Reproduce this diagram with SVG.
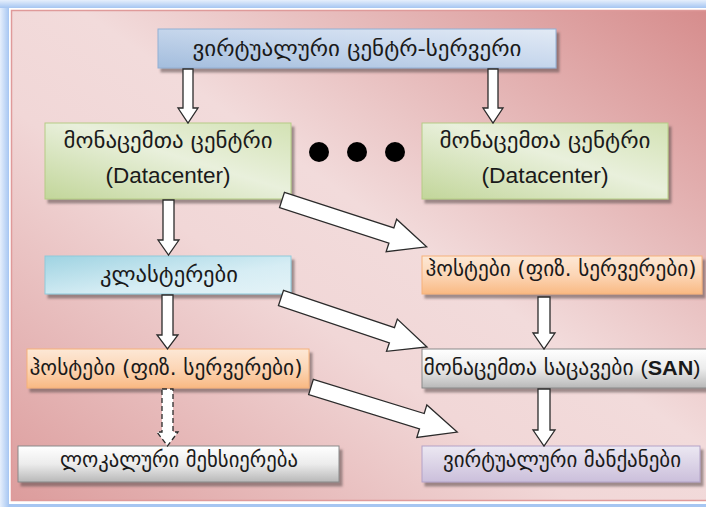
<svg xmlns="http://www.w3.org/2000/svg" width="706" height="507" viewBox="0 0 706 507">
  <style>
    .geo { font-family: "DejaVu Sans", "Noto Sans", sans-serif; font-size: 21px; fill: #1a1a1a; text-anchor: middle; }
    .lat { font-family: "Liberation Sans", Arial, sans-serif; font-size: 22px; fill: #1a1a1a; text-anchor: middle; }
    .latin { font-family: "Liberation Sans", Arial, sans-serif; font-size: 21px; }
    .box { stroke-width: 1; filter: url(#shadow); }
    .arrow { fill: #ffffff; stroke: #2b2b2b; stroke-width: 1.3; stroke-linejoin: miter; }
    .dashed { stroke-dasharray: 5 3; }
  </style>
  <defs>
    <linearGradient id="bg" x1="1" y1="0" x2="0" y2="1">
      <stop offset="0" stop-color="#d68c8c"/>
      <stop offset="0.45" stop-color="#f2dbdb"/>
      <stop offset="0.6" stop-color="#f1d7d7"/>
      <stop offset="1" stop-color="#dc9c9c"/>
    </linearGradient>
    <linearGradient id="frameL" x1="0" y1="0" x2="1" y2="0">
      <stop offset="0" stop-color="#e6effc"/>
      <stop offset="1" stop-color="#a6c6f2"/>
    </linearGradient>
    <linearGradient id="frameT" x1="0" y1="0" x2="0" y2="1">
      <stop offset="0" stop-color="#e6effc"/>
      <stop offset="1" stop-color="#a6c6f2"/>
    </linearGradient>
    <linearGradient id="gBlue" x1="0" y1="1" x2="1" y2="0">
      <stop offset="0" stop-color="#a3bddd"/>
      <stop offset="0.6" stop-color="#cbdaee"/>
      <stop offset="1" stop-color="#e2eaf5"/>
    </linearGradient>
    <linearGradient id="gGreen" x1="0" y1="1" x2="1" y2="0">
      <stop offset="0" stop-color="#c2d69a"/>
      <stop offset="0.55" stop-color="#e9f0dc"/>
      <stop offset="1" stop-color="#d3e2b4"/>
    </linearGradient>
    <linearGradient id="gCyan" x1="0" y1="0" x2="1" y2="1">
      <stop offset="0" stop-color="#9fd3e2"/>
      <stop offset="0.6" stop-color="#d6edf4"/>
      <stop offset="1" stop-color="#e4f3f7"/>
    </linearGradient>
    <linearGradient id="gOrange" x1="0" y1="0" x2="0" y2="1">
      <stop offset="0" stop-color="#fde8d6"/>
      <stop offset="0.5" stop-color="#fcd6b6"/>
      <stop offset="1" stop-color="#f9b983"/>
    </linearGradient>
    <linearGradient id="gGray" x1="0" y1="0" x2="0" y2="1">
      <stop offset="0" stop-color="#ffffff"/>
      <stop offset="0.5" stop-color="#ececec"/>
      <stop offset="1" stop-color="#b8b8b8"/>
    </linearGradient>
    <linearGradient id="gPurple" x1="0" y1="0" x2="0" y2="1">
      <stop offset="0" stop-color="#ece8f2"/>
      <stop offset="1" stop-color="#cbbfdb"/>
    </linearGradient>
    <filter id="shadow" x="-5%" y="-20%" width="115%" height="150%">
      <feGaussianBlur in="SourceAlpha" stdDeviation="1"/>
      <feOffset dx="3" dy="4" result="o"/>
      <feFlood flood-color="#5a4a4a" flood-opacity="0.55"/>
      <feComposite in2="o" operator="in"/>
      <feMerge><feMergeNode/><feMergeNode in="SourceGraphic"/></feMerge>
    </filter>
  </defs>

  <!-- frame and backdrop -->
  <rect x="0" y="0" width="706" height="507" fill="#a6c6f2"/>
  <rect x="0" y="0" width="9" height="507" fill="url(#frameL)"/>
  <rect x="0" y="0" width="706" height="8" fill="url(#frameT)"/>
  <rect x="9" y="8" width="697" height="496" fill="#ffffff"/>
  <rect x="11.5" y="10.5" width="700" height="490" fill="url(#bg)" stroke="#df9a9a" stroke-width="1.5"/>

  <!-- nodes -->
  <g id="vcenter">
    <rect class="box" x="158" y="29" width="398" height="39" fill="url(#gBlue)" stroke="#92afd3"/>
    <text class="geo" x="357" y="56" textLength="329" lengthAdjust="spacingAndGlyphs">ვირტუალური  ცენტრ-სერვერი</text>
  </g>
  <g id="datacenter1">
    <rect class="box" x="45" y="123" width="246" height="76" fill="url(#gGreen)" stroke="#b5cc85"/>
    <text class="geo" x="168" y="148" textLength="209" lengthAdjust="spacingAndGlyphs">მონაცემთა  ცენტრი</text>
    <text class="lat" x="168" y="183" textLength="125" lengthAdjust="spacingAndGlyphs">(Datacenter)</text>
  </g>
  <g id="dots">
    <circle cx="319" cy="152" r="10" fill="#000"/>
    <circle cx="357" cy="152" r="10" fill="#000"/>
    <circle cx="395" cy="152" r="10" fill="#000"/>
  </g>
  <g id="datacenter2">
    <rect class="box" x="422" y="123" width="246" height="76" fill="url(#gGreen)" stroke="#b5cc85"/>
    <text class="geo" x="545" y="148" textLength="211" lengthAdjust="spacingAndGlyphs">მონაცემთა  ცენტრი</text>
    <text class="lat" x="545" y="183" textLength="127" lengthAdjust="spacingAndGlyphs">(Datacenter)</text>
  </g>
  <g id="clusters">
    <rect class="box" x="45" y="256" width="246" height="38" fill="url(#gCyan)" stroke="#8fc9da"/>
    <text class="geo" x="169" y="282" textLength="138" lengthAdjust="spacingAndGlyphs">კლასტერები</text>
  </g>
  <g id="hosts1">
    <rect class="box" x="27" y="349" width="282" height="39" fill="url(#gOrange)" stroke="#f5b27a"/>
    <text class="geo" x="166" y="375" textLength="273" lengthAdjust="spacingAndGlyphs">ჰოსტები (ფიზ. სერვერები)</text>
  </g>
  <g id="localstorage">
    <rect class="box" x="18" y="446" width="321" height="36" fill="url(#gGray)" stroke="#8a8a8a"/>
    <text class="geo" x="179" y="467" textLength="238" lengthAdjust="spacingAndGlyphs">ლოკალური მეხსიერება</text>
  </g>
  <g id="hosts2">
    <rect class="box" x="422" y="256" width="280" height="38" fill="url(#gOrange)" stroke="#f5b27a"/>
    <text class="geo" x="561" y="276" textLength="271" lengthAdjust="spacingAndGlyphs">ჰოსტები (ფიზ. სერვერები)</text>
  </g>
  <g id="san">
    <rect class="box" x="422" y="349" width="290" height="39" fill="url(#gGray)" stroke="#8a8a8a"/>
    <text class="geo" x="562" y="375" textLength="277" lengthAdjust="spacingAndGlyphs">მონაცემთა საცავები <tspan class="latin">(</tspan><tspan class="latin" font-weight="bold">SAN</tspan><tspan class="latin">)</tspan></text>
  </g>
  <g id="vms">
    <rect class="box" x="422" y="446" width="278" height="36" fill="url(#gPurple)" stroke="#b3a2c7"/>
    <text class="geo" x="562" y="467" textLength="238" lengthAdjust="spacingAndGlyphs">ვირტუალური მანქანები</text>
  </g>

  <!-- connectors -->
  <g id="connectors">
    <path class="arrow" d="M183 69 H193 V108 H198 L188 123 L178 108 H183 Z"/>
    <path class="arrow" d="M488 69 H498 V108 H503 L493 123 L483 108 H488 Z"/>
    <path class="arrow" d="M163 200 H174 V240 H179 L168.5 255 L158 240 H163 Z"/>
    <path class="arrow" d="M162 295 H173 V335 H178 L167.5 349 L157 335 H162 Z"/>
    <path class="arrow dashed" d="M162 389 H173 V432 H178 L167.5 446 L157 432 H162 Z"/>
    <path class="arrow" d="M538 297 H550 V333 H555 L544 349 L533 333 H538 Z"/>
    <path class="arrow" d="M538 389 H550 V430 H555 L544 446 L533 430 H538 Z"/>
    <path class="arrow" transform="translate(282 200) rotate(17.96)" d="M0 -8 H115 V-17 L152 0 L115 17 V8 H0 Z"/>
    <path class="arrow" transform="translate(281 298) rotate(18.55)" d="M0 -8 H117 V-17 L154 0 L117 17 V8 H0 Z"/>
    <path class="arrow" transform="translate(311 387) rotate(17.13)" d="M0 -8 H116 V-17 L153 0 L116 17 V8 H0 Z"/>
  </g>
</svg>
